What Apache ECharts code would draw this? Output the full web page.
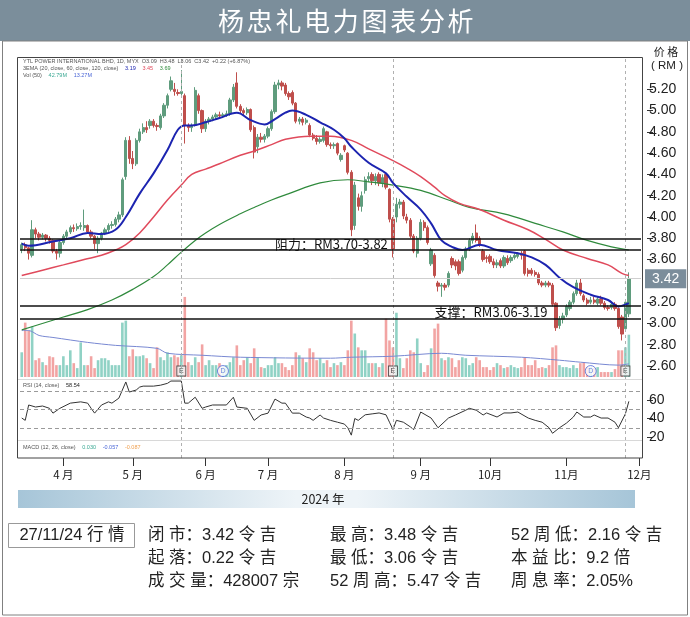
<!DOCTYPE html>
<html><head><meta charset="utf-8">
<script src="https://cdn.jsdelivr.net/npm/echarts@6/dist/echarts.min.js"></script>
<style>html,body{margin:0;padding:0;background:#fff}#c{width:690px;height:617px}</style>
</head><body><div id="c"></div>
<script>
// ---------- categories (Bursa trading days) ----------
const firstDay = '2024-03-13', lastDay = '2024-12-02';
const holidays = ['2024-03-28','2024-04-10','2024-04-11','2024-05-01','2024-05-22','2024-06-03','2024-06-17','2024-07-08','2024-09-16','2024-10-31'];
const categories = [];
for (let d = new Date(firstDay + 'T00:00:00Z'); d <= new Date(lastDay + 'T00:00:00Z'); d.setUTCDate(d.getUTCDate() + 1)) {
  const wd = d.getUTCDay(), s = d.toISOString().slice(0, 10);
  if (wd === 0 || wd === 6 || holidays.includes(s)) continue;
  categories.push(s);
}
// ---------- daily candles [open, close, low, high] ----------
const candles = [
[3.70,3.74,3.66,3.76],[3.74,3.71,3.68,3.76],[3.71,3.66,3.60,3.72],[3.64,3.88,3.62,3.97],[3.88,3.84,3.80,3.90],[3.84,3.81,3.78,3.86],[3.81,3.83,3.79,3.85],[3.83,3.80,3.77,3.84],[3.80,3.78,3.75,3.82],[3.78,3.68,3.66,3.79],[3.68,3.66,3.60,3.70],[3.66,3.76,3.62,3.78],
[3.76,3.82,3.74,3.84],[3.82,3.86,3.80,3.88],[3.86,3.90,3.84,3.92],[3.90,3.89,3.86,3.93],[3.89,3.91,3.87,3.94],[3.91,3.92,3.88,3.95],[3.90,3.92,3.87,4.07],[3.92,3.86,3.84,3.93],[3.86,3.82,3.80,3.88],[3.82,3.75,3.70,3.83],[3.75,3.80,3.66,3.82],[3.80,3.85,3.78,3.86],[3.85,3.88,3.83,3.90],[3.88,3.92,3.86,3.94],[3.92,3.93,3.89,3.96],[3.93,3.98,3.91,4.00],[3.98,4.02,3.95,4.05],[4.02,4.35,4.00,4.37],[4.38,4.72,4.35,4.75],[4.72,4.55,4.50,4.76],
[4.55,4.50,4.45,4.62],[4.50,4.72,4.48,4.74],[4.72,4.80,4.70,4.83],[4.80,4.84,4.78,4.88],[4.84,4.82,4.79,4.90],[4.86,4.90,4.83,4.92],[4.90,4.86,4.84,4.92],[4.86,4.85,4.81,4.88],[4.84,4.95,4.82,4.97],[4.95,5.05,4.93,5.07],[5.05,5.14,5.02,5.16],[5.20,5.28,5.18,5.32],[5.20,5.18,5.14,5.26],[5.17,5.16,5.14,5.20],[5.16,5.18,5.13,5.38],[5.14,4.86,4.69,5.16],[4.86,4.84,4.80,4.88],[4.84,4.86,4.80,4.88],[4.87,5.19,4.85,5.22],[5.14,5.00,4.97,5.16],[5.00,4.83,4.79,5.01],
[4.83,4.90,4.80,4.92],[4.90,4.92,4.87,4.94],[4.92,4.94,4.90,4.96],[4.94,4.96,4.92,4.98],[4.96,4.95,4.93,4.99],[4.95,4.96,4.93,4.98],[4.96,4.97,4.94,5.00],[4.97,5.10,4.95,5.12],[5.10,5.22,5.08,5.25],[5.26,5.04,5.02,5.36],[5.04,5.00,4.97,5.06],[5.00,4.98,4.95,5.02],[4.98,5.01,4.96,5.03],[5.01,4.82,4.80,5.02],[4.84,4.61,4.55,4.86],[4.66,4.75,4.60,4.78],[4.75,4.73,4.70,4.79],[4.73,4.76,4.70,4.78],
[4.76,4.83,4.74,4.85],[4.83,4.99,4.81,5.01],[4.99,5.24,4.97,5.27],[5.24,5.26,5.20,5.29],[5.26,5.23,5.19,5.28],[5.24,5.16,5.14,5.26],[5.16,5.13,5.10,5.18],[5.17,5.07,5.05,5.19],[5.07,4.90,4.88,5.08],[4.90,4.92,4.87,4.94],[4.92,4.89,4.86,4.94],[4.89,4.91,4.87,4.93],[4.86,4.77,4.75,4.88],[4.77,4.74,4.72,4.79],[4.74,4.71,4.68,4.77],[4.71,4.73,4.69,4.75],[4.72,4.83,4.70,4.85],[4.80,4.68,4.66,4.81],[4.68,4.67,4.64,4.70],[4.67,4.68,4.64,4.70],[4.69,4.60,4.58,4.70],[4.54,4.58,4.52,4.60],
[4.67,4.63,4.61,4.68],[4.60,4.42,4.40,4.61],[4.42,3.88,3.82,4.44],[3.92,4.30,3.88,4.33],[4.18,4.10,4.06,4.22],[4.10,4.20,4.05,4.24],[4.25,4.35,4.22,4.38],[4.36,4.38,4.33,4.42],[4.40,4.34,4.30,4.42],[4.34,4.38,4.30,4.41],[4.40,4.32,4.29,4.42],[4.32,4.37,4.28,4.40],[4.40,4.28,4.26,4.42],[4.26,3.98,3.95,4.27],[3.98,3.70,3.62,4.00],[4.00,4.12,3.95,4.18],[4.12,4.14,4.08,4.17],[4.14,4.01,3.98,4.16],[4.00,3.97,3.94,4.03],[3.97,3.82,3.80,3.99],[3.82,3.68,3.66,3.84],[3.66,3.80,3.62,3.82],
[3.80,3.95,3.78,3.98],[3.95,3.90,3.87,3.97],[3.90,3.76,3.74,3.92],[3.56,3.69,3.54,3.71],[3.64,3.45,3.43,3.66],[3.38,3.35,3.30,3.40],[3.35,3.36,3.25,3.38],[3.36,3.34,3.31,3.38],[3.36,3.47,3.34,3.49],[3.61,3.55,3.52,3.63],[3.58,3.54,3.50,3.60],[3.58,3.47,3.45,3.60],[3.50,3.62,3.48,3.64],[3.62,3.70,3.60,3.72],[3.70,3.78,3.68,3.80],[3.78,3.82,3.75,3.85],[3.85,3.78,3.76,3.93],[3.80,3.74,3.72,3.82],[3.68,3.60,3.58,3.70],[3.62,3.61,3.57,3.64],
[3.63,3.58,3.56,3.65],[3.58,3.55,3.52,3.61],[3.55,3.57,3.52,3.60],[3.59,3.54,3.52,3.61],[3.54,3.62,3.52,3.64],[3.61,3.57,3.55,3.64],[3.59,3.62,3.57,3.64],[3.62,3.64,3.60,3.66],[3.63,3.65,3.61,3.67],[3.66,3.64,3.60,3.68],[3.68,3.47,3.45,3.69],[3.50,3.47,3.44,3.52],[3.50,3.47,3.45,3.52],[3.48,3.46,3.44,3.50],[3.46,3.38,3.36,3.48],[3.38,3.36,3.34,3.40],[3.36,3.38,3.34,3.40],[3.38,3.36,3.34,3.40],[3.36,3.18,3.16,3.38],[3.19,2.96,2.93,3.20],[2.98,3.04,2.95,3.07],[3.04,3.07,3.00,3.10],
[3.08,3.16,3.06,3.18],[3.14,3.20,3.12,3.22],[3.20,3.28,3.18,3.30],[3.28,3.38,3.26,3.41],[3.38,3.28,3.26,3.42],[3.26,3.22,3.20,3.28],[3.22,3.19,3.17,3.24],[3.20,3.22,3.18,3.25],[3.22,3.20,3.18,3.25],[3.19,3.23,3.17,3.25],[3.23,3.19,3.17,3.26],[3.19,3.15,3.13,3.21],[3.15,3.14,3.12,3.17],[3.15,3.18,3.13,3.20],[3.18,3.14,3.12,3.20],[3.14,2.97,2.95,3.15],[3.06,2.90,2.84,3.08],[2.95,3.20,2.93,3.22],[3.09,3.42,3.06,3.48]
];
// ---------- daily volume (million shares) ----------
const volume = [
25,55,47,51,17,19,15,12,21,20,12,12,
21,12,27,14,9,35,12,12,21,9,17,19,19,17,12,12,12,55,57,21,
28,21,21,22,19,14,9,30,20,17,25,20,22,20,22,81,15,12,20,15,33,
12,17,12,12,14,10,12,15,20,32,12,17,20,14,29,20,10,9,
12,12,20,14,14,10,7,12,25,22,19,15,29,25,17,19,14,17,10,14,12,15,
12,27,57,44,30,27,27,14,14,14,10,14,59,37,30,65,19,9,19,27,25,39,
14,5,12,29,49,54,19,17,20,19,10,17,20,19,12,14,20,17,10,10,
7,10,14,12,9,10,12,10,9,10,20,12,12,17,9,10,9,12,30,32,12,10,
10,9,12,9,14,15,10,10,9,10,5,5,5,5,8,27,27,30,42.79
];
// ---------- indicator readings [dayIndex, value] ----------
const ema20 = [[0,3.75],[2,3.73],[9,3.77],[14,3.80],[19,3.85],[23,3.84],[27,3.88],[30,4.00],[34,4.22],[38,4.41],[42,4.63],[45,4.82],[47,4.86],[49,4.86],[53,4.89],[57,4.93],[62,4.98],[66,4.91],[70,4.87],[73,4.92],[76,4.98],[78,5.00],[82,4.96],[86,4.89],[90,4.82],[93,4.74],[95,4.66],[100,4.51],[105,4.41],[107,4.32],[111,4.19],[115,4.07],[118,3.94],[121,3.78],[124,3.72],[127,3.69],[132,3.74],[137,3.69],[143,3.66],[147,3.62],[151,3.55],[155,3.43],[159,3.34],[164,3.27],[169,3.22],[172,3.16],[175,3.19]];
const ema60 = [[0,3.45],[6,3.50],[12,3.55],[18,3.60],[23,3.64],[27,3.69],[30,3.74],[34,3.85],[38,4.00],[42,4.16],[46,4.30],[49,4.40],[53,4.45],[57,4.50],[63,4.58],[67,4.62],[72,4.68],[76,4.73],[83,4.76],[89,4.76],[95,4.72],[100,4.64],[107,4.53],[111,4.46],[115,4.38],[119,4.28],[122,4.20],[126,4.13],[132,4.07],[139,3.97],[146,3.88],[151,3.79],[156,3.69],[163,3.61],[169,3.55],[173,3.47],[175,3.45]];
const ema120 = [[0,2.94],[5,2.99],[12,3.06],[19,3.13],[26,3.22],[32,3.32],[38,3.44],[42,3.55],[46,3.67],[50,3.78],[53,3.85],[57,3.93],[63,4.03],[67,4.09],[72,4.16],[77,4.22],[86,4.32],[94,4.35],[100,4.33],[107,4.30],[115,4.25],[123,4.16],[129,4.09],[139,4.03],[148,3.94],[156,3.86],[163,3.78],[170,3.72],[175,3.69]];
const volMA50 = [[0,47],[2,47],[5,42],[9,40],[19,35],[27,32],[39,29],[42,24],[52,22],[63,20],[89,19],[95,20],[107,21],[121,24],[128,22],[144,20],[155,17],[161,15],[172,12],[175,13.3]];
const rsi14 = [[0,40.5],[1,38],[2,54.6],[4,52.4],[6,53.5],[8,51],[9,45.8],[11,51],[14,56.6],[17,58],[19,56.6],[20,51],[21,45.8],[23,54.6],[25,58],[26,56.6],[28,62],[30,79.5],[31,68.6],[33,70.8],[34,74],[35,75],[38,75],[40,76],[42,78],[43,80.5],[46,80.5],[47,56.6],[48,56.6],[50,63],[52,51],[53,52.4],[55,54.6],[59,54.6],[61,63],[62,52.4],[65,51],[67,38],[69,43.8],[71,45.8],[73,61],[75,56.6],[76,56.6],[78,45.8],[80,45.8],[82,41.6],[83,40.5],[84,38],[86,43.8],[87,40.5],[89,38],[91,36],[93,34],[94,30],[95,22],[96,40],[97,38],[99,44],[101,45],[103,46],[105,44],[106,36],[107,28],[108,38],[110,36],[112,31],[113,28],[115,47],[118,40.5],[120,30],[123,40.5],[125,43.8],[128,49],[129,51],[131,49],[133,43.8],[134,46],[137,41.6],[139,46],[141,46],[143,47],[146,40.5],[148,38],[150,36],[152,30],[153,24],[155,30],[157,35],[159,41.6],[160,47],[162,41.6],[164,41.6],[165,43.8],[167,40.5],[169,40.5],[171,36],[172,30],[174,45],[175,58.54]];
// ---------- levels, events, ticks ----------
const lastClose = 3.42;
const resistance = [3.80, 3.69], support = [3.17, 3.04];
const earningsIdx = [46, 107, 174], dividendIdx = [58, 164];
const priceTicks = {min: 2.6, max: 5.2, step: 0.2};
const rsiTicks = {min: 20, max: 60, step: 20};
const titleChars = ['杨','忠','礼','电','力','图','表','分','析'];

// ---------- chart ----------
const chart = echarts.init(document.getElementById('c'));
const GL = 20, GW = 621;
const upC = '#5f9c7d', dnC = '#bf4f4c', volUp = '#90d2c5', volDn = '#f2a4a3';
const FONT = 'Liberation Sans, Arial, sans-serif', CJK = 'Noto Sans CJK SC, sans-serif';
const MIX = 'Liberation Sans, Noto Sans CJK SC, sans-serif';
const volData = volume.map((v, i) => ({value: v, itemStyle: {color: candles[i][1] >= candles[i][0] ? volUp : volDn}}));
const monthStart = (i) => i > 0 && categories[i].slice(5, 7) !== categories[i - 1].slice(5, 7);
const hiddenX = (g) => ({type: 'category', gridIndex: g, data: categories, show: false, boundaryGap: true});
const hiddenY = (g, min, max) => ({type: 'value', gridIndex: g, min, max, show: false, splitLine: {show: false}});

const option = {
  animation: false,
  grid: [
    {left: GL, width: GW, top: 89.3, height: 276.7},   // 0 price
    {left: GL, width: GW, top: 290, height: 87},       // 1 volume
    {left: GL, width: GW, top: 400, height: 37},       // 2 rsi labels
    {left: GL, width: GW, top: 440, height: 18},       // 3 month axis
    {left: GL, width: GW, top: 57, height: 401},       // 4 event lines
    {left: GL, width: GW, top: 363, height: 92.5}      // 5 rsi data
  ],
  xAxis: [
    hiddenX(0), hiddenX(1), hiddenX(2),
    {type: 'category', gridIndex: 3, data: categories, boundaryGap: true, position: 'bottom',
     axisLine: {show: false},
     axisTick: {show: true, alignWithLabel: true, interval: (i) => monthStart(i), length: 8, lineStyle: {color: '#333'}},
     axisLabel: {interval: (i) => monthStart(i), margin: 11, fontSize: 11.5, color: '#222', fontFamily: CJK,
       formatter: (v) => { const m = +v.slice(5, 7); return m < 10 ? m + ' 月' : m + '月'; }}},
    hiddenX(4), hiddenX(5)
  ],
  yAxis: [
    {type: 'value', gridIndex: 0, position: 'right', min: priceTicks.min, max: priceTicks.max, interval: priceTicks.step, offset: 6,
     axisLine: {show: false}, splitLine: {show: false}, axisTick: {show: true, length: 6, lineStyle: {color: '#333'}},
     axisLabel: {formatter: (v) => v.toFixed(2), fontSize: 14, color: '#222', margin: 2, fontFamily: FONT}},
    hiddenY(1, 0, 88),
    {type: 'value', gridIndex: 2, position: 'right', min: rsiTicks.min, max: rsiTicks.max, interval: rsiTicks.step, offset: 6,
     axisLine: {show: false}, splitLine: {show: false}, axisTick: {show: true, length: 6, lineStyle: {color: '#333'}},
     axisLabel: {fontSize: 14, color: '#222', margin: 2, fontFamily: FONT}},
    hiddenY(3, 0, 1), hiddenY(4, 0, 1), hiddenY(5, 0, 100)
  ],
  series: [
    {type: 'line', xAxisIndex: 4, yAxisIndex: 4, data: [], silent: true,
     markLine: {silent: true, symbol: 'none', label: {show: false},
       lineStyle: {color: '#b0b0b0', type: [3, 3], width: 1},
       data: earningsIdx.map(i => ({xAxis: i}))}},
    {type: 'bar', xAxisIndex: 1, yAxisIndex: 1, data: volData, barWidth: 2.6, silent: true},
    {type: 'line', xAxisIndex: 1, yAxisIndex: 1, data: volMA50, showSymbol: false, smooth: 0.3,
     lineStyle: {color: '#7888d2', width: 1}, silent: true},
    {type: 'candlestick', xAxisIndex: 0, yAxisIndex: 0, data: candles, barWidth: 2.8, clip: false,
     itemStyle: {color: upC, color0: dnC, borderColor: upC, borderColor0: dnC, borderWidth: 1},
     markLine: {silent: true, symbol: 'none', animation: false,
       data: [
         {yAxis: lastClose, lineStyle: {color: '#cfcfcf', type: 'solid', width: 1},
          label: {show: true, position: 'end', formatter: lastClose.toFixed(2), color: '#fff', backgroundColor: '#7b8d9b',
                  padding: [3, 7, 2, 7], fontSize: 14, fontFamily: FONT, distance: 4}},
         ...resistance.concat(support).map(v => ({yAxis: v, lineStyle: {color: '#111', type: 'solid', width: 1.6}, label: {show: false}}))
       ]},
     markPoint: {silent: true, symbol: 'circle', symbolSize: 0,
       data: [
         {coord: [73, (resistance[0] + resistance[1]) / 2], label: {show: true, position: 'right', distance: 0, formatter: '阻力：RM3.70-3.82', fontSize: 13, color: '#111', fontFamily: CJK}},
         {coord: [119, (support[0] + support[1]) / 2], label: {show: true, position: 'right', distance: 0, formatter: '支撑：RM3.06-3.19', fontSize: 13, color: '#111', fontFamily: CJK}}
       ]}},
    {type: 'line', xAxisIndex: 0, yAxisIndex: 0, data: ema120, showSymbol: false, smooth: 0.4, clip: false, lineStyle: {color: '#2f8a3c', width: 1.2}, silent: true},
    {type: 'line', xAxisIndex: 0, yAxisIndex: 0, data: ema60, showSymbol: false, smooth: 0.4, clip: false, lineStyle: {color: '#e04a5c', width: 1.5}, silent: true},
    {type: 'line', xAxisIndex: 0, yAxisIndex: 0, data: ema20, showSymbol: false, smooth: 0.4, clip: false, lineStyle: {color: '#1c24b0', width: 2}, silent: true},
    {type: 'scatter', xAxisIndex: 1, yAxisIndex: 1, data: earningsIdx.map(i => [i, 6]), symbol: 'rect', symbolSize: [9, 10], silent: true,
     itemStyle: {color: '#f4f4f4', borderColor: '#333', borderWidth: 1},
     label: {show: true, position: 'inside', formatter: 'E', fontSize: 7, color: '#222', fontFamily: FONT}},
    {type: 'scatter', xAxisIndex: 1, yAxisIndex: 1, data: dividendIdx.map(i => [i, 6]), symbol: 'circle', symbolSize: 11, silent: true,
     itemStyle: {color: '#fff', borderColor: '#4a66d6', borderWidth: 1},
     label: {show: true, position: 'inside', formatter: 'D', fontSize: 7, color: '#4a66d6', fontFamily: FONT}},
    {type: 'line', xAxisIndex: 5, yAxisIndex: 5, data: rsi14, showSymbol: false, clip: false, lineStyle: {color: '#333', width: 1}, silent: true,
     markLine: {silent: true, symbol: 'none', label: {show: false}, lineStyle: {color: '#9a9a9a', type: [4, 3], width: 1},
       data: [{yAxis: 70}, {yAxis: 50}, {yAxis: 30}]}}
  ],
  graphic: [
    {type: 'rect', shape: {x: 0, y: 0, width: 690, height: 41}, style: {fill: '#7b8e9b'}, z: 1},
    ...titleChars.map((ch, k) => ({type: 'text', x: 231 + k * 28.7, y: 21,
      style: {text: ch, fill: '#fff', font: '26px ' + CJK, textAlign: 'center', textVerticalAlign: 'middle'}, z: 2})),
    {type: 'rect', shape: {x: 2.5, y: 41, width: 685, height: 574}, style: {fill: 'none', stroke: '#808080', lineWidth: 1}, z: 1},
    {type: 'rect', shape: {x: 17.5, y: 57.5, width: 625, height: 400.5}, style: {fill: 'none', stroke: '#444', lineWidth: 1}, z: 50},
    {type: 'line', shape: {x1: 18, y1: 379.5, x2: 642, y2: 379.5}, style: {stroke: '#d8d8d8', lineWidth: 1}, z: 50},
    {type: 'line', shape: {x1: 18, y1: 440.5, x2: 642, y2: 440.5}, style: {stroke: '#d8d8d8', lineWidth: 1}, z: 50},
    {type: 'text', x: 666, y: 52, style: {text: '价 格', fill: '#222', font: '11px ' + CJK, textAlign: 'center', textVerticalAlign: 'middle'}},
    {type: 'text', x: 667, y: 66, style: {text: '( RM )', fill: '#222', font: '11.5px ' + FONT, textAlign: 'center', textVerticalAlign: 'middle'}},
    {type: 'text', x: 23, y: 61, style: {text: 'YTL POWER INTERNATIONAL BHD, 1D, MYX  O3.09  H3.48  L3.06  C3.42  +0.22 (+6.87%)', fill: '#555', font: '5.5px ' + FONT, textVerticalAlign: 'middle'}, z: 60},
    {type: 'text', x: 23, y: 68, style: {rich: {a: {fill: '#555', font: '5.5px ' + FONT}, b: {fill: '#1c24b0', font: '5.5px ' + FONT}, r: {fill: '#e04a5c', font: '5.5px ' + FONT}, g: {fill: '#2f8a3c', font: '5.5px ' + FONT}},
      text: '{a|3EMA (20, close, 60, close, 120, close)}  {b|3.19}  {r|3.45}  {g|3.69}', textVerticalAlign: 'middle'}, z: 60},
    {type: 'text', x: 23, y: 75, style: {rich: {a: {fill: '#555', font: '5.5px ' + FONT}, t: {fill: '#3aa893', font: '5.5px ' + FONT}, b: {fill: '#4a66d6', font: '5.5px ' + FONT}},
      text: '{a|Vol (50)}  {t|42.79M}  {b|13.27M}', textVerticalAlign: 'middle'}, z: 60},
    {type: 'text', x: 23, y: 385, style: {rich: {a: {fill: '#555', font: '5.5px ' + FONT}, k: {fill: '#222', font: '5.5px ' + FONT}},
      text: '{a|RSI (14, close)}  {k|58.54}', textVerticalAlign: 'middle'}, z: 60},
    {type: 'text', x: 23, y: 447, style: {rich: {a: {fill: '#555', font: '5.5px ' + FONT}, t: {fill: '#3aa893', font: '5.5px ' + FONT}, b: {fill: '#4a66d6', font: '5.5px ' + FONT}, o: {fill: '#f0a050', font: '5.5px ' + FONT}},
      text: '{a|MACD (12, 26, close)}  {t|0.030}  {b|-0.057}  {o|-0.087}', textVerticalAlign: 'middle'}, z: 60},
    {type: 'rect', shape: {x: 18, y: 490, width: 617, height: 18},
     style: {fill: new echarts.graphic.LinearGradient(0, 0, 1, 0, [{offset: 0, color: '#a6c5d8'}, {offset: 0.45, color: '#eef4f8'}, {offset: 0.55, color: '#eef4f8'}, {offset: 1, color: '#a6c5d8'}])}},
    {type: 'text', x: 323, y: 499, style: {text: '2024 年', fill: '#222', font: '12.5px ' + CJK, textAlign: 'center', textVerticalAlign: 'middle'}},
    {type: 'rect', shape: {x: 8.5, y: 523.5, width: 126, height: 24}, style: {fill: '#fff', stroke: '#999', lineWidth: 1}},
    {type: 'text', x: 72, y: 535.5, style: {text: '27/11/24 行 情', fill: '#222', font: '16.5px ' + MIX, textAlign: 'center', textVerticalAlign: 'middle'}},
    ...[
      ['闭 市：3.42 令 吉', 148, 535], ['最 高：3.48 令 吉', 330, 535], ['52 周 低：2.16 令 吉', 511, 535],
      ['起 落：0.22 令 吉', 148, 558], ['最 低：3.06 令 吉', 330, 558], ['本 益 比：9.2 倍', 511, 558],
      ['成 交 量：428007 宗', 148, 581], ['52 周 高：5.47 令 吉', 330, 581], ['周 息 率：2.05%', 511, 581]
    ].map(([t, x, y]) => ({type: 'text', x, y, style: {text: t, fill: '#222', font: '16.5px ' + MIX, textVerticalAlign: 'middle'}}))
  ]
};
chart.setOption(option);
</script>
</body></html>
